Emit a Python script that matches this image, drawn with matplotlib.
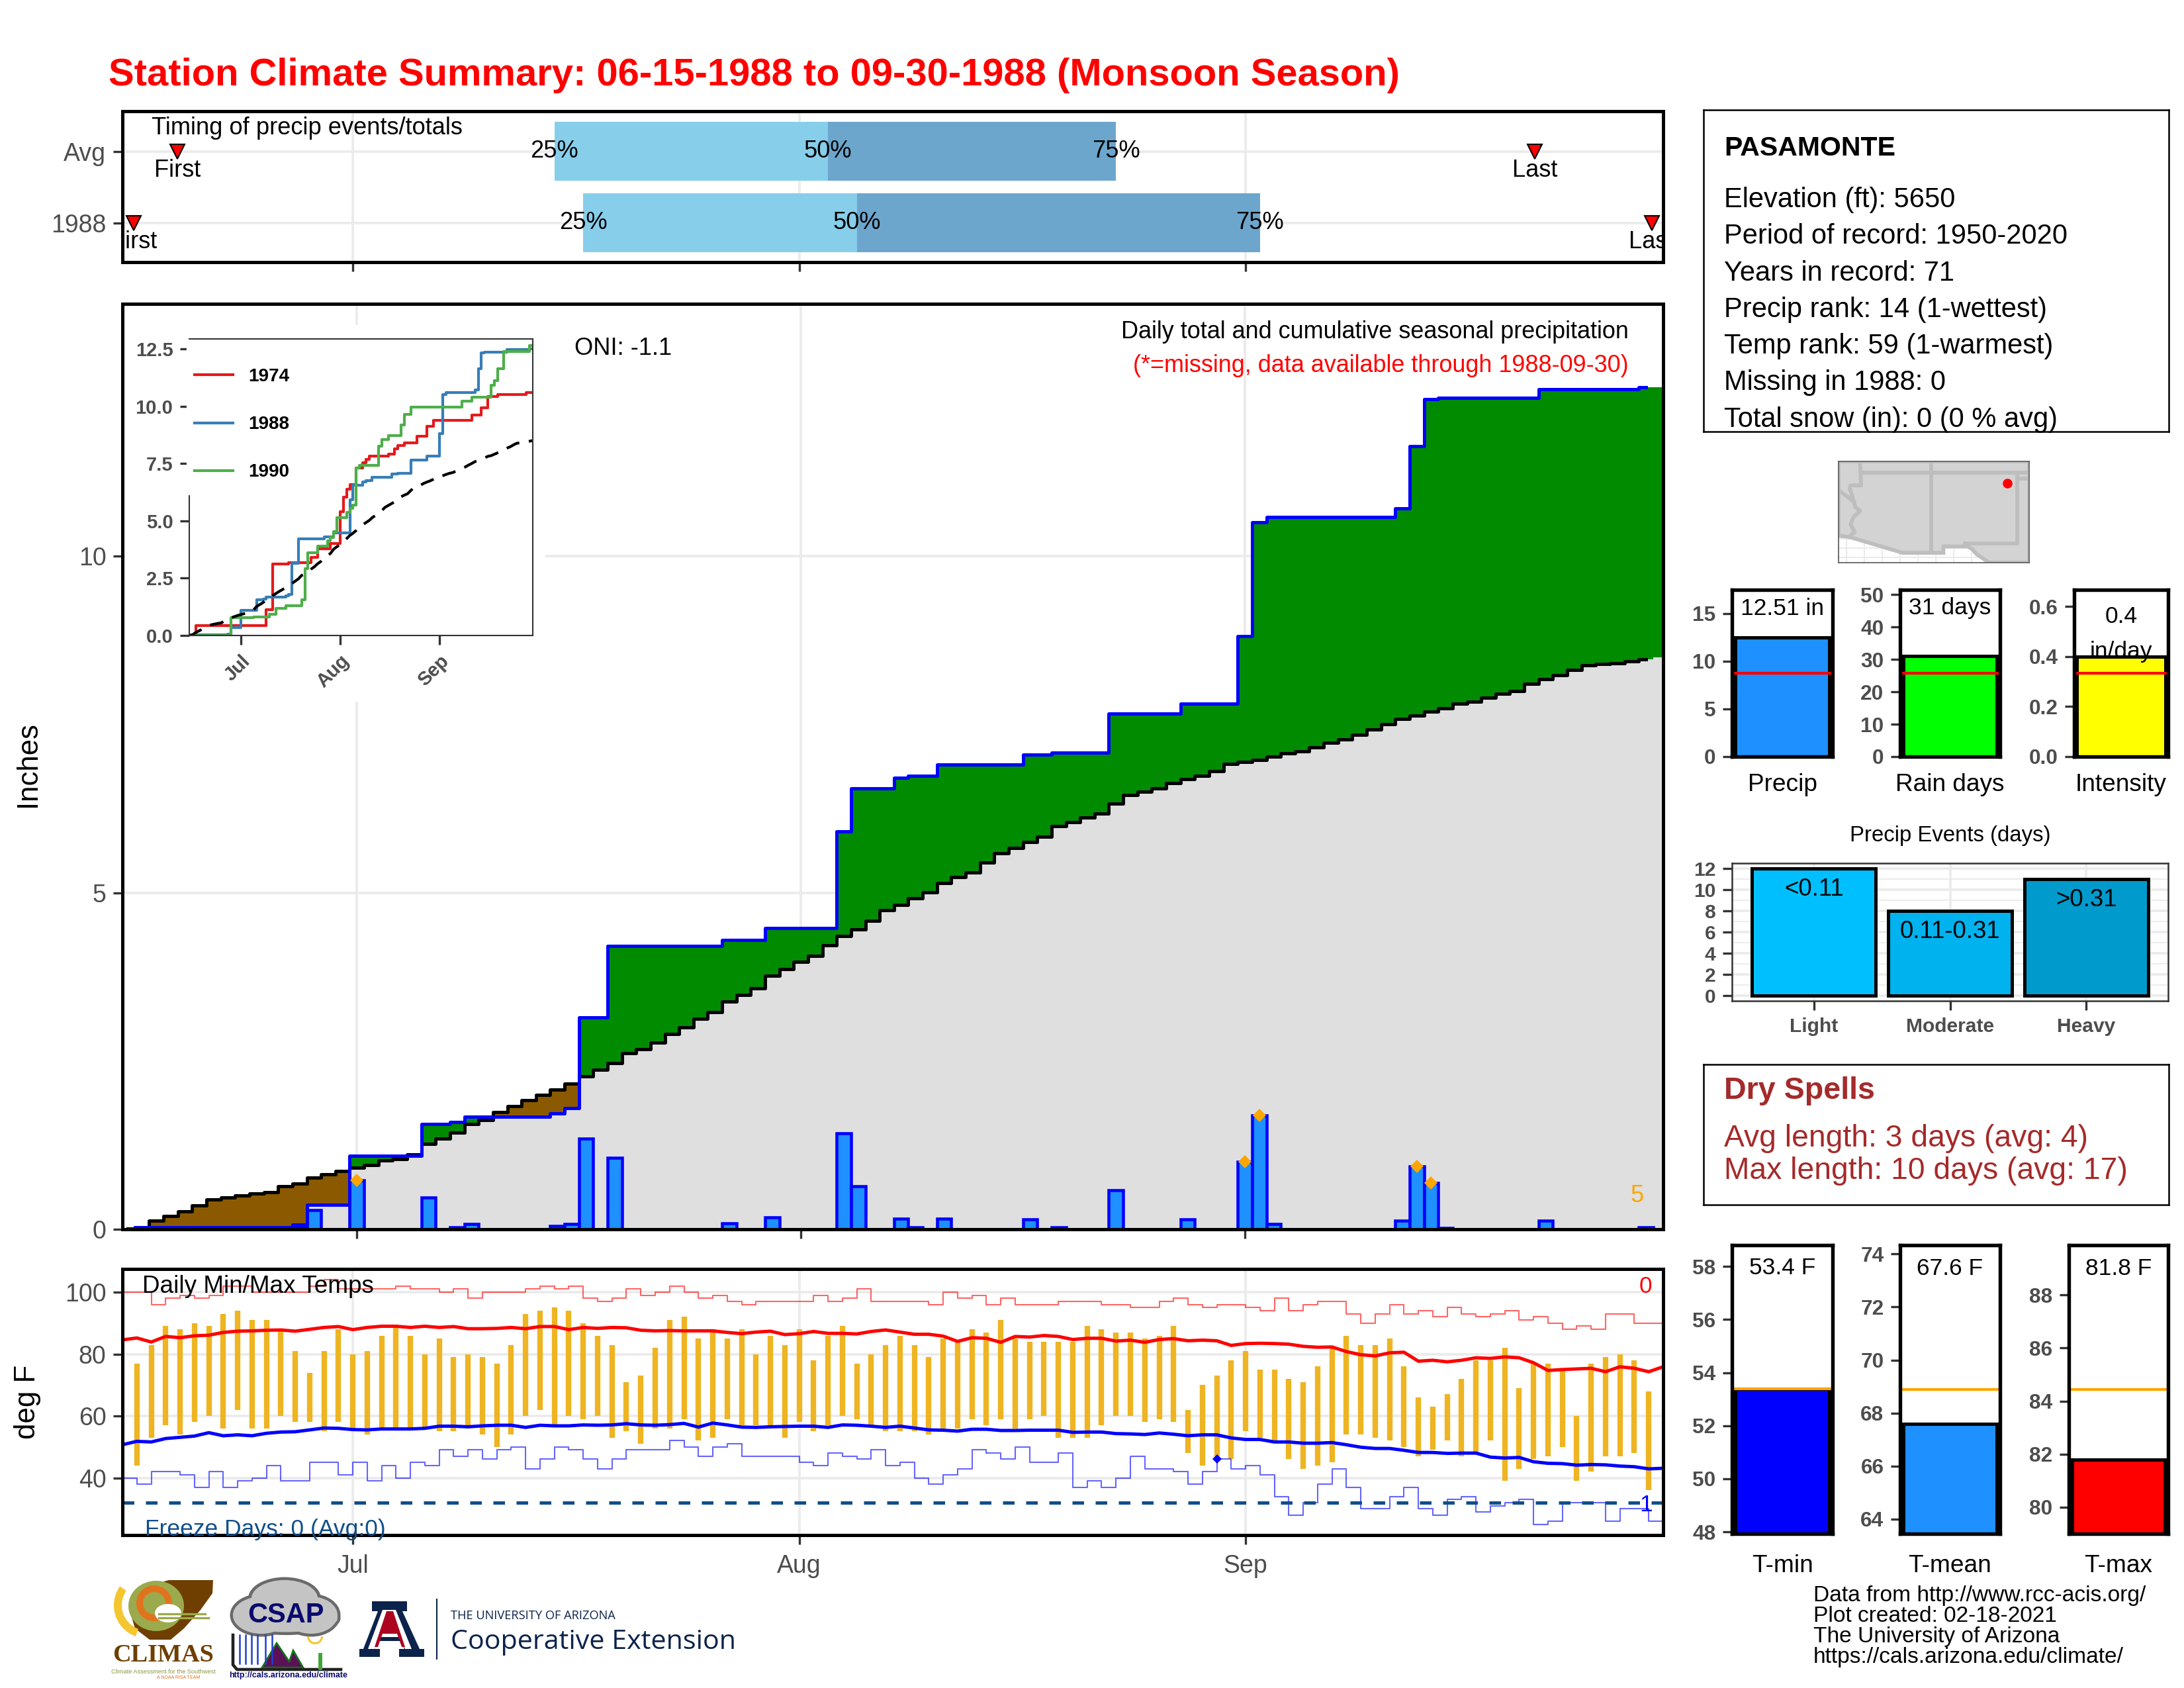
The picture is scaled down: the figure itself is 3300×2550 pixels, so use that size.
import numpy as np
import matplotlib
matplotlib.use('Agg')
import matplotlib.pyplot as plt
from matplotlib.patches import Polygon, Rectangle, Ellipse, Wedge

plt.rcParams['font.family'] = ['Liberation Sans', 'DejaVu Sans']

W, H = 3300, 2550
GRID = '#EBEBEB'
TICK = '#4D4D4D'

# days are counted from 06-15
month_days = [16, 47, 78]
month_names = ['Jul', 'Aug', 'Sep']

# daily precip, only the days with rain
rain_days = [1, 12, 13, 16, 21, 23, 24, 30, 31, 32, 34, 42, 45, 50, 51, 54, 55, 57, 63, 65, 69, 74,
             78, 79, 80, 89, 90, 91, 92, 99, 106]
rain_vals = [.03, .04, .29, .73, .47, .03, .08, .05, .08, 1.35, 1.06, .09, .18, 1.43, .64, .16, .03, .16,
             .15, .03, .58, .15, 1.0, 1.69, .08, .13, .93, .69, .02, .13, .03]
top_days = [16, 78, 79, 90, 91]

avg_cum = [.01, .03, .13, .2, .27, .35, .44, .47, .5, .53, .55, .64, .68, .77, .82, .87,
           .91, .95, 1.02, 1.04, 1.11, 1.27, 1.35, 1.44, 1.56, 1.62, 1.74, 1.83, 1.92, 2.0, 2.08, 2.16,
           2.27, 2.37, 2.47, 2.62, 2.68, 2.77, 2.9, 3.0, 3.13, 3.23, 3.38, 3.48, 3.58, 3.77, 3.87, 3.97,
           4.06, 4.22, 4.36, 4.46, 4.58, 4.74, 4.82, 4.92, 5.01, 5.14, 5.23, 5.3, 5.45, 5.59, 5.67, 5.75,
           5.83, 5.99, 6.05, 6.12, 6.18, 6.32, 6.45, 6.5, 6.55, 6.63, 6.69, 6.74, 6.81, 6.91, 6.94, 6.97,
           7.02, 7.07, 7.1, 7.16, 7.23, 7.28, 7.35, 7.43, 7.5, 7.58, 7.63, 7.69, 7.74, 7.81, 7.84, 7.9,
           7.96, 8.0, 8.1, 8.17, 8.23, 8.31, 8.38, 8.4, 8.41, 8.44, 8.47, 8.5]

# other years for the inset, day of each jump and the total after it
days_1974 = [0, 2, 24, 26, 31, 38, 40, 44, 47, 48, 49, 50, 52, 54, 55, 56, 62, 64, 65, 67, 71, 74, 76, 88, 91,
             93, 96, 105, 107]
cum_1974 = [0, .44, 1.13, 3.13, 3.18, 3.4, 3.77, 4.02, 5.4, 6.04, 6.38, 6.57, 7.3, 7.53, 7.69, 7.81, 7.92,
            8.15, 8.27, 8.41, 8.7, 9.13, 9.39, 9.62, 9.94, 10.42, 10.5, 10.58, 10.58]
days_1990 = [0, 13, 20, 25, 27, 30, 35, 36, 37, 40, 43, 44, 45, 46, 49, 50, 51, 52, 53, 59, 60, 62, 66, 67, 69,
             85, 88, 94, 95, 96, 98, 106, 107]
cum_1990 = [0, .77, .8, .93, 1.19, 1.29, 1.57, 2.91, 3.61, 3.9, 4.13, 4.28, 4.52, 5.14, 5.37, 5.55, 5.68, 7.3,
            7.43, 8.26, 8.53, 8.72, 9.18, 9.65, 9.96, 10.22, 10.4, 10.9, 11.12, 11.63, 12.38, 12.64, 12.64]

# daily temps for days 1 to 106
tmax = [77, 83, 89, 88, 90, 89, 93, 94, 91, 91, 88, 81, 74, 81, 88, 80, 81, 86, 89, 86,
        80, 85, 79, 80, 79, 77, 83, 93, 94, 95, 94, 90, 86, 83, 71, 73, 82, 91, 92, 85,
        88, 85, 88, 80, 86, 83, 88, 78, 86, 89, 77, 80, 83, 86, 83, 79, 85, 84, 88, 87,
        91, 85, 84, 84, 84, 84, 89, 88, 87, 87, 85, 86, 89, 62, 70, 73, 78, 81, 75, 75,
        72, 71, 76, 82, 86, 83, 83, 85, 76, 66, 63, 67, 72, 78, 78, 82, 69, 77, 77, 75,
        60, 77, 79, 80, 78, 68]
tmin = [44, 53, 57, 54, 58, 60, 56, 62, 56, 56, 60, 58, 58, 55, 58, 56, 54, 56, 56, 56,
        56, 55, 55, 56, 54, 50, 54, 60, 62, 57, 60, 59, 60, 53, 55, 51, 56, 56, 59, 52,
        53, 59, 57, 57, 57, 53, 58, 55, 57, 60, 59, 57, 55, 55, 55, 54, 56, 56, 59, 57,
        59, 56, 59, 60, 53, 53, 53, 57, 60, 60, 58, 59, 58, 48, 44, 46, 46, 55, 53, 52,
        46, 43, 44, 45, 54, 54, 53, 52, 50, 47, 49, 52, 47, 48, 52, 39, 43, 46, 47, 50,
        39, 42, 47, 47, 48, 36]

avg_tmax = [84.6, 85.2, 83.9, 85.7, 85.3, 85.9, 86.1, 87, 87.4, 87.5, 87.7, 87.8, 87.4, 88, 88.6, 88.9,
            87.9, 88.6, 89, 89, 88.6, 89, 88.6, 88.9, 88.2, 88.2, 88.3, 88.6, 88.2, 88.9, 88.9, 87.9,
            88.6, 88.3, 88.6, 88.5, 87.7, 87.5, 87.6, 87.5, 87.5, 87.5, 87, 86.6, 87.1, 87.4, 86.3, 86.6,
            87.3, 86.7, 86.7, 86.5, 87.3, 87.8, 87.1, 86.4, 86.4, 85.8, 84.1, 85.3, 85.1, 83.8, 85.7, 85.5,
            86, 85.7, 84.7, 85.1, 85.1, 84.2, 84.5, 83.8, 84.7, 85, 84.3, 84.5, 84.3, 82.8, 83.4, 83.5,
            83.4, 83.2, 82.5, 82.2, 82.3, 80.8, 79.8, 79.4, 80.4, 80.6, 77.7, 78, 77.5, 78, 78.8, 78.6,
            79.1, 78.8, 77.2, 74.7, 75, 75.2, 75.4, 74.3, 75.9, 75.4, 74.3, 75.9]
avg_tmin = [50.7, 51.8, 51.6, 52.7, 53.1, 53.5, 54.6, 53.6, 53.9, 53.6, 54.4, 54.8, 54.9, 55.5, 56.1, 56,
            55.6, 55.5, 55.8, 55.8, 55.8, 56, 56.7, 56.7, 56.5, 56.8, 57, 57, 56.3, 57, 56.8, 56.8,
            57.1, 57, 57.1, 57.5, 57.1, 57, 57.2, 57.6, 56.4, 57.7, 57.1, 56.4, 56.3, 56.5, 56.6, 56.7,
            56.7, 56.3, 57.1, 57, 56.7, 56.3, 56.7, 56.1, 55.5, 55.4, 55.1, 55.7, 55.7, 55.3, 55.3, 55.4,
            55.4, 55.4, 54.7, 54.8, 54.8, 54.3, 54.2, 54, 54.5, 54.1, 53.6, 53.9, 53.9, 52.9, 52.4, 52.4,
            51.6, 51.6, 51.2, 51.2, 51.4, 50.7, 49.9, 49.5, 49.5, 48.9, 48.2, 48.2, 47.9, 48, 48, 46.7,
            46.4, 46.6, 45.2, 44.7, 44.6, 44.1, 44.3, 44.2, 43.8, 43.6, 42.9, 43.1]
rec_high = [100, 100, 96, 98, 99, 98, 99, 102, 102, 100, 100, 100, 100, 102, 104, 101, 101, 101, 101, 102,
            101, 101, 100, 101, 98, 100, 100, 100, 101, 102, 101, 102, 98, 97, 98, 101, 99, 100, 102, 100,
            98, 99, 97, 96, 97, 97, 97, 97, 99, 97, 98, 101, 97, 97, 97, 97, 96, 100, 98, 99,
            96, 98, 96, 96, 96, 97, 97, 97, 96, 96, 95, 95, 97, 98, 96, 95, 96, 96, 95, 94,
            98, 94, 96, 97, 97, 93, 90, 93, 96, 93, 94, 92, 95, 93, 92, 93, 94, 91, 92, 90,
            88, 89, 88, 93, 93, 90, 90, 90]
rec_low = [40, 38, 42, 42, 41, 37, 42, 37, 39, 40, 44, 39, 39, 45, 45, 41, 45, 39, 44, 40,
           45, 44, 49, 47, 49, 46, 49, 50, 43, 46, 50, 49, 46, 43, 46, 49, 49, 49, 52, 50,
           47, 50, 51, 47, 47, 47, 47, 45, 44, 48, 47, 46, 49, 44, 45, 40, 38, 41, 43, 49,
           48, 46, 50, 45, 45, 48, 37, 39, 37, 40, 47, 43, 43, 42, 38, 42, 46, 43, 44, 41,
           34, 28, 32, 38, 43, 37, 30, 30, 34, 37, 30, 28, 33, 34, 29, 31, 32, 33, 25, 26,
           32, 32, 32, 26, 30, 30, 26, 26]

# timing panel
timing_rows = ['1988', 'Avg']
timing_25 = [32, 30]
timing_50 = [51, 49]
timing_75 = [79, 69]
timing_first = [0.8, 3.8]
timing_last = [106.2, 98.1]

precip_total, precip_avg = 12.51, 8.76
raindays_total, raindays_avg = 31, 25.8
intensity, intensity_avg = 0.4, 0.334
event_names = ['Light', 'Moderate', 'Heavy']
event_counts = [12, 8, 11]
event_labels = ['<0.11', '0.11-0.31', '>0.31']
event_colors = ['#00BFFF', '#00B2EE', '#009ACD']
temp_names = ['T-min', 'T-mean', 'T-max']
temp_vals = [53.4, 67.6, 81.8]
temp_avgs = [53.38, 68.9, 84.45]

# map outline, lon/lat
land_lon = [-115.56, -114.83, -111.07, -108.21, -108.21, -106.53, -106.2, -105.9, -105.0, -102.2, -102.2, -115.56]
land_lat = [32.54, 32.46, 31.33, 31.33, 31.78, 31.78, 31.6, 31.25, 30.63, 30.63, 37.81, 37.81]
az_west_lon = [-114.05, -113.98, -114.72, -114.78, -114.49, -114.38, -114.05, -114.49, -114.72, -114.43, -114.83]
az_west_lat = [37.81, 36.11, 36.11, 35.92, 34.97, 34.57, 34.3, 33.89, 33.35, 32.81, 32.46]
station_lon, station_lat = -103.74, 36.27


def px_ax(l, t, r, b, **kw):
    return fig.add_axes([l / W, 1 - b / H, (r - l) / W, (b - t) / H], **kw)


def style(ax, lw=1.2, color='black', size=9, bold=False):
    for s in ax.spines.values():
        s.set_linewidth(lw)
        s.set_color(color)
    ax.tick_params(length=3.4, width=0.8, color='#333333', labelcolor=TICK, labelsize=size, pad=2.5)
    if bold:
        for t in ax.get_yticklabels() + ax.get_xticklabels():
            t.set_fontweight('bold')


fig = plt.figure(figsize=(11, 8.5), dpi=300)
days = np.arange(108)

fig.text(164 / W, 1 - 114 / H, 'Station Climate Summary: 06-15-1988 to 09-30-1988 (Monsoon Season)',
         color='red', fontweight='bold', fontsize=13.9, va='center')

# ---- timing
ax = px_ax(185, 168, 2513, 396)
ax.set_xlim(0, 107)
ax.set_ylim(0.45, 2.56)
ax.set_axisbelow(True)
ax.grid(color=GRID, lw=0.9)
rows = np.array([1, 2])
ax.barh(rows, np.array(timing_50) - np.array(timing_25), left=timing_25, height=0.83, color='#87CEEB')
ax.barh(rows, np.array(timing_75) - np.array(timing_50), left=timing_50, height=0.83, color='#6CA6CD')
for i, y in enumerate(rows):
    for val, lab in zip([timing_25[i], timing_50[i], timing_75[i]], ['25%', '50%', '75%']):
        ax.text(val, y, lab, ha='center', va='center', fontsize=8.7)
    ax.text(timing_first[i], y - 0.27, 'First', ha='center', va='center', fontsize=8.7, clip_on=True)
    ax.text(timing_last[i], y - 0.27, 'Last', ha='center', va='center', fontsize=8.7, clip_on=True)
ax.plot(timing_first, rows, 'v', color='red', mec='black', mew=0.5, ms=5.5, clip_on=False)
ax.plot(timing_last, rows, 'v', color='red', mec='black', mew=0.5, ms=5.5, clip_on=False)
ax.text(2.04, 2.32, 'Timing of precip events/totals', fontsize=8.7, va='center')
ax.set_xticks(month_days)
ax.set_xticklabels([])
ax.set_yticks(rows)
ax.set_yticklabels(timing_rows)
style(ax)

# ---- main precip panel
precip = np.zeros(108)
precip[rain_days] = rain_vals
cum = np.cumsum(precip)
avg = np.array(avg_cum)
edges = np.r_[days - 0.5, 107.5]


def closed(v):
    return np.r_[v, v[-1]]


ax = px_ax(185, 459, 2513, 1857)
ax.set_xlim(-0.37, 107.2)
ax.set_ylim(0, 13.75)
ax.set_axisbelow(True)
ax.grid(color=GRID, lw=0.9)
low = np.minimum(cum, avg)
high = np.maximum(cum, avg)
ax.fill_between(edges, 0, closed(low), step='post', color='#DFDFDF', lw=0)
ax.fill_between(edges, closed(avg), closed(high), step='post', color='#008B00', lw=0)
ax.fill_between(edges, closed(cum), closed(high), step='post', color='#8B5A00', lw=0)
ax.bar(days[precip > 0], precip[precip > 0], width=1, color='#1E90FF', edgecolor='blue', lw=1.1)
ax.step(days[:107], avg[:107], where='mid', color='black', lw=1.2)
ax.step(days[:107], cum[:107], where='mid', color='blue', lw=1.2)
ax.plot(top_days, precip[top_days], 'D', color='orange', ms=3.4, mew=0)
ax.text(105.4, 0.5, '5', color='orange', fontsize=8.7, ha='center', va='center')
ax.text(104.8, 13.33, 'Daily total and cumulative seasonal precipitation', ha='right', va='center', fontsize=8.65)
ax.text(104.8, 12.83, '(*=missing, data available through 1988-09-30)', color='red', ha='right', va='center', fontsize=8.65)
ax.text(31.2, 13.09, 'ONI: -1.1', va='center', fontsize=8.7)
ax.set_xticks(month_days)
ax.set_xticklabels([])
ax.set_yticks([0, 5, 10])
style(ax)
fig.text(42 / W, 1 - 1155 / H, 'Inches', rotation=90, ha='center', va='center', fontsize=10.5)

# ---- inset
back = px_ax(190, 491, 824, 1060, zorder=3)
back.set_xticks([])
back.set_yticks([])
for s in back.spines.values():
    s.set_visible(False)

ins = px_ax(286, 512, 805, 960, zorder=4)
ins.set_xlim(0, 107)
ins.set_ylim(0, 12.93)
ins.step(days_1974, cum_1974, where='post', color='#E41A1C', lw=1, label='1974')
ins.step(days, cum, where='post', color='#377EB8', lw=1, label='1988')
ins.step(days_1990, cum_1990, where='post', color='#4DAF4A', lw=1, label='1990')
ins.plot(days, avg, color='black', lw=1, dashes=(5, 3.5))
ins.add_patch(Rectangle((-0.004, 0.478), 0.008, 0.516, transform=ins.transAxes, color='white', zorder=3, clip_on=False))
leg = ins.legend(loc='upper left', bbox_to_anchor=(0.0, 0.92), frameon=False, handlelength=2.05, handletextpad=0.85,
                 labelspacing=1.65, borderaxespad=0, borderpad=0.3, prop={'weight': 'bold', 'size': 6.7})
ins.set_xticks(month_days)
ins.set_xticklabels(month_names, rotation=45, ha='right', rotation_mode='anchor')
ins.set_yticks([0, 2.5, 5, 7.5, 10, 12.5])
ins.set_yticklabels(['0.0', '2.5', '5.0', '7.5', '10.0', '12.5'])
style(ins, lw=0.5, color='#333333', size=7, bold=True)

# ---- temps
ax = px_ax(185, 1917, 2513, 2319)
ax.set_xlim(0, 107)
ax.set_ylim(21.5, 107.5)
ax.set_axisbelow(True)
ax.grid(color=GRID, lw=0.9)
ax.vlines(days[1:107], tmin, tmax, color='#EEB422', lw=2)
ax.step(days, rec_high, where='post', color='red', lw=0.5, alpha=0.6)
ax.step(days, rec_low, where='post', color='blue', lw=0.5, alpha=0.6)
ax.plot(days, avg_tmax, color='red', lw=1.2)
ax.plot(days, avg_tmin, color='blue', lw=1.2)
ax.axhline(32, color='#104E8B', lw=1.2, dashes=(3.5, 3.5))
ax.plot([76], [46], 'D', color='blue', ms=2.5, mew=0)
ax.text(1.37, 101.9, 'Daily Min/Max Temps', fontsize=8.85, va='center')
ax.text(1.55, 23.4, 'Freeze Days: 0 (Avg:0)', fontsize=8.5, va='center', color='#104E8B')
ax.text(105.8, 101.9, '0', color='red', fontsize=8.5, ha='center', va='center')
ax.text(105.8, 31.2, '1', color='blue', fontsize=8.5, ha='center', va='center')
ax.set_xticks(month_days)
ax.set_xticklabels(month_names)
ax.set_yticks([40, 60, 80, 100])
style(ax)
ax.tick_params(axis='x', pad=3.5)
fig.text(42 / W, 1 - 2118 / H, 'deg F', rotation=90, ha='center', va='center', fontsize=10.5)

# ---- station box
box = px_ax(2574, 166, 3277, 652)
box.set_xticks([])
box.set_yticks([])
for s in box.spines.values():
    s.set_linewidth(0.6)
info_lines = ['Elevation (ft): 5650', 'Period of record: 1950-2020', 'Years in record: 71',
              'Precip rank: 14 (1-wettest)', 'Temp rank: 59 (1-warmest)', 'Missing in 1988: 0',
              'Total snow (in): 0 (0 % avg)']
fig.text(2605 / W, 1 - 224 / H, 'PASAMONTE', fontweight='bold', fontsize=9.85, va='center')
for i, line in enumerate(info_lines):
    fig.text(2605 / W, 1 - (302 + i * 55.3) / H, line, fontsize=10, va='center')

# ---- map
mp = px_ax(2778, 697, 3066, 850)
mp.set_xlim(-115.56, -102.2)
mp.set_ylim(30.63, 37.81)
mp.set_axisbelow(True)
mp.set_xticks(np.arange(-115, -102, 1.25))
mp.set_yticks(np.arange(31, 33, 0.65))
mp.grid(color=GRID, lw=0.5)
mp.tick_params(length=0, labelbottom=False, labelleft=False)
mp.add_patch(Polygon(np.c_[land_lon, land_lat], closed=True, fc='#D3D3D3', ec='#BEBEBE', lw=1.4))
border = dict(color='#BEBEBE', lw=1.4)
mp.plot(az_west_lon, az_west_lat, **border)
mp.plot([-115.56, -114.49], [35.78, 34.97], **border)
mp.plot([-113.98, -102.2], [37, 37], **border)
mp.plot([-103.04, -102.2], [36.6, 36.6], **border)
mp.plot([-109.05, -109.05], [37.81, 31.33], **border)
mp.plot([-103.04, -103.04, -106.72], [37, 32, 32], **border)
mp.plot([station_lon], [station_lat], 'o', color='red', ms=3.5, mew=0)
for s in mp.spines.values():
    s.set_linewidth(0.4)
    s.set_color('#555555')


# ---- small bars
def small_bar(l, t, r, b, val, ref, ref_col, col, ylim, yticks, name, ylabels=None, pad=6):
    a = px_ax(l, t, r, b)
    a.bar([1], [val], width=0.9, color=col, edgecolor='black', lw=1.2)
    a.axhline(ref, color=ref_col, lw=1)
    a.set_xlim(0.52, 1.48)
    a.set_ylim(*ylim)
    a.set_yticks(yticks)
    if ylabels:
        a.set_yticklabels(ylabels)
    a.set_xticks([1])
    a.set_xticklabels([name])
    style(a, lw=1.3, size=7.6, bold=True)
    a.tick_params(axis='x', length=0, labelcolor='black', labelsize=8.9, pad=pad)
    for t_ in a.get_xticklabels():
        t_.set_fontweight('normal')
    return a


a = small_bar(2617, 891, 2769, 1143, precip_total, precip_avg, 'red', '#1E90FF', (0, 17.5), [0, 5, 10, 15], 'Precip')
a.text(1, 15.5, '12.51 in', ha='center', va='center', fontsize=8.5)
a = small_bar(2871, 891, 3022, 1143, raindays_total, raindays_avg, 'red', '#00FF00', (0, 51.5), [0, 10, 20, 30, 40, 50], 'Rain days')
a.text(1, 45.9, '31 days', ha='center', va='center', fontsize=8.5)
a = small_bar(3134, 891, 3276, 1143, intensity, intensity_avg, 'red', '#FFFF00', (0, 0.667), [0, 0.2, 0.4, 0.6], 'Intensity',
              ['0.0', '0.2', '0.4', '0.6'])
a.text(1, 0.56, '0.4', ha='center', va='center', fontsize=8.5)
a.text(1, 0.42, 'in/day', ha='center', va='center', fontsize=8.5)

# ---- events
ev = px_ax(2617, 1304, 3276, 1512)
ev.set_xlim(0.4, 3.6)
ev.set_ylim(-0.5, 12.5)
ev.set_axisbelow(True)
ev.set_yticks(np.arange(1, 12, 2), minor=True)
ev.grid(which='major', color=GRID, lw=0.9)
ev.grid(which='minor', axis='y', color=GRID, lw=0.45)
ev.bar([1, 2, 3], event_counts, width=0.905, color=event_colors, edgecolor='black', lw=1.2)
for i, lab in enumerate(event_labels):
    ev.text(i + 1, event_counts[i] - 1.95, lab, ha='center', va='center', fontsize=8.8)
ev.set_xticks([1, 2, 3])
ev.set_xticklabels(event_names)
ev.set_yticks(np.arange(0, 13, 2))
style(ev, lw=0.6, color='#333333', size=7.2, bold=True)
ev.tick_params(which='minor', length=0)
fig.text(2947 / W, 1 - 1262 / H, 'Precip Events (days)', ha='center', va='center', fontsize=7.9)

# ---- dry spells
box = px_ax(2574, 1608, 3277, 1820)
box.set_xticks([])
box.set_yticks([])
for s in box.spines.values():
    s.set_linewidth(0.6)
fig.text(2605 / W, 1 - 1648 / H, 'Dry Spells', color='#A52A2A', fontweight='bold', fontsize=11.2, va='center')
fig.text(2605 / W, 1 - 1720 / H, 'Avg length: 3 days (avg: 4)', color='#A52A2A', fontsize=11.1, va='center')
fig.text(2605 / W, 1 - 1769 / H, 'Max length: 10 days (avg: 17)', color='#A52A2A', fontsize=11.1, va='center')

# ---- temp bars
a = small_bar(2617, 1881, 2769, 2317, temp_vals[0], temp_avgs[0], 'orange', 'blue', (47.93, 58.8), np.arange(48, 59, 2), temp_names[0], pad=7.4)
a.text(1, 57.93, '53.4 F', ha='center', va='center', fontsize=8.5)
a = small_bar(2871, 1881, 3022, 2317, temp_vals[1], temp_avgs[1], 'orange', '#1E90FF', (63.45, 74.33), np.arange(64, 75, 2), temp_names[1], pad=7.4)
a.text(1, 73.45, '67.6 F', ha='center', va='center', fontsize=8.5)
a = small_bar(3126, 1881, 3276, 2317, temp_vals[2], temp_avgs[2], 'orange', 'red', (79, 89.88), np.arange(80, 89, 2), temp_names[2], pad=7.4)
a.text(1, 89.0, '81.8 F', ha='center', va='center', fontsize=8.5)

foot = ['Data from http://www.rcc-acis.org/', 'Plot created: 02-18-2021', 'The University of Arizona',
        'https://cals.arizona.edu/climate/']
for i, line in enumerate(foot):
    fig.text(2740 / W, 1 - (2410 + i * 31.3) / H, line, fontsize=8.04, va='center')

# ---- logos, drawn roughly in pixel space
lg = fig.add_axes([0, 0, 1, 1], zorder=5)
lg.set_xlim(0, W)
lg.set_ylim(H, 0)
lg.axis('off')
lg.patch.set_alpha(0)

# climas
lg.add_patch(Polygon([(255, 2387), (322, 2387), (321, 2407), (303, 2432), (278, 2460), (258, 2477), (226, 2477),
                      (204, 2460), (198, 2440), (201, 2417), (220, 2397)], fc='#6E3F00', lw=0))
lg.add_patch(Ellipse((236, 2426), 84, 76, fc='#9BAA4C', lw=0))
lg.add_patch(Wedge((233, 2422), 27, 0, 360, width=10, fc='#E2731E', lw=0))
lg.add_patch(Ellipse((254, 2437), 40, 28, fc='white', lw=0))
lg.add_patch(Wedge((222, 2425), 50, 110, 215, width=12, fc='#F4C62F', lw=0))
lg.plot([240, 310], [2438, 2438], color='#9BAA4C', lw=0.8)
lg.plot([240, 315], [2444, 2444], color='#9BAA4C', lw=0.8)
lg.text(247, 2501, 'CLIMAS', family='Liberation Serif', fontweight='bold', color='#6E3F00', fontsize=9.2, ha='center', va='center')
lg.text(247, 2525, 'Climate Assessment for the Southwest', color='#8A9A44', fontsize=2.2, ha='center', va='center')
lg.text(270, 2534, 'A NOAA RISA TEAM', color='#E2731E', fontsize=1.7, ha='center', va='center')

# csap
for c in [(395, 2440, 90, 60), (470, 2440, 84, 60), (430, 2415, 105, 60), (432, 2445, 160, 45)]:
    lg.add_patch(Ellipse(c[:2], c[2], c[3], fc='#BEBEBE', ec='#6A6A6A', lw=1.2))
for c in [(395, 2440, 86, 56), (470, 2440, 80, 56), (430, 2415, 100, 56), (432, 2445, 156, 41)]:
    lg.add_patch(Ellipse(c[:2], c[2], c[3], fc='#C4C4C4', lw=0))
lg.text(432, 2440, 'CSAP', color='#0A0A6E', fontweight='bold', fontsize=10, ha='center', va='center')
for x in [362, 371, 380, 389, 401, 411]:
    lg.plot([x, x], [2470, 2513], color='#1F3FD0', lw=0.6)
lg.plot([352, 352, 358, 515], [2470, 2515, 2522, 2522], color='#222222', lw=1.1)
lg.add_patch(Polygon([(396, 2519), (418, 2482), (437, 2510), (443, 2493), (458, 2519)], fc='#5C1055', ec='#0E7A1A', lw=0.6))
lg.add_patch(Wedge((476, 2472), 12, 0, 180, width=3, fc='#F4C62F', lw=0))
lg.plot([484, 484], [2500, 2520], color='#3FA535', lw=1.4)
lg.text(436, 2531, 'http://cals.arizona.edu/climate', color='#0A0A6E', fontweight='bold', fontsize=3.0, ha='center', va='center')

# university of arizona
lg.add_patch(Polygon([(562, 2419), (615, 2419), (615, 2434), (608, 2434), (634, 2491), (641, 2491), (641, 2503), (603, 2503),
                      (603, 2491), (611, 2491), (606, 2479), (571, 2479), (566, 2491), (574, 2491), (574, 2503), (543, 2503),
                      (543, 2491), (549, 2491), (571, 2434), (562, 2434)], fc='#0C234B', lw=0))
lg.add_patch(Polygon([(578, 2432), (598, 2432), (622, 2491), (612, 2491), (604, 2473), (574, 2473), (566, 2491), (556, 2491)],
                     fc='white', lw=0))
lg.add_patch(Polygon([(584, 2434), (594, 2434), (612, 2488), (607, 2488), (600, 2468), (578, 2468), (571, 2488), (566, 2488)],
                     fc='#AB0520', lw=0))
lg.plot([660, 660], [2416, 2506], color='#0C234B', lw=0.5)
lg.text(681, 2441, 'THE UNIVERSITY OF ARIZONA', color='#0C234B', family='Open Sans', fontsize=4.4, va='center')
lg.text(681, 2481, 'Cooperative Extension', color='#0C234B', family='Open Sans', fontsize=9.9, va='center')

fig.savefig('out.png', dpi=300)
